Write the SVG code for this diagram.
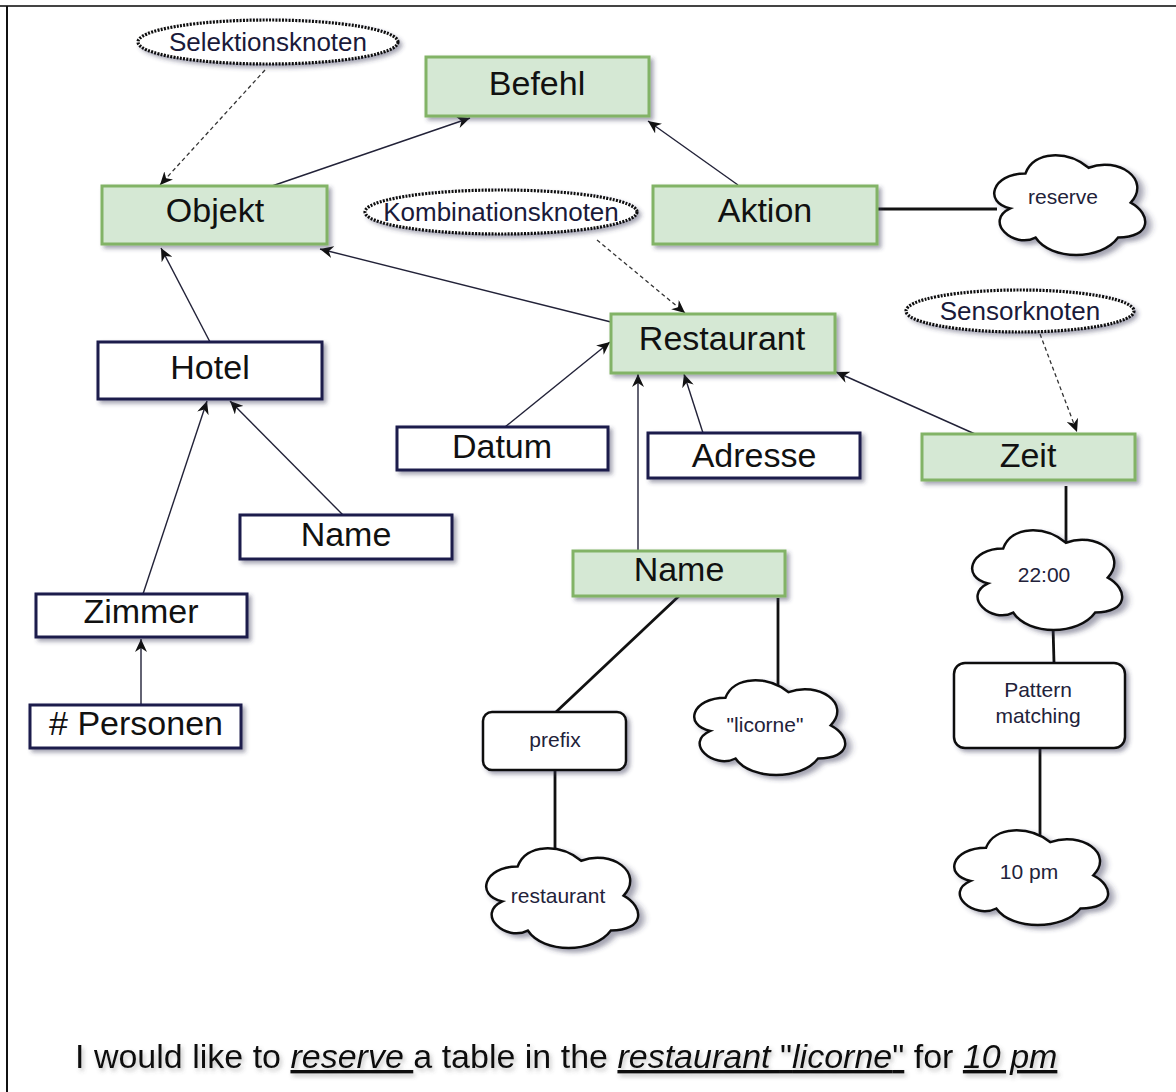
<svg xmlns="http://www.w3.org/2000/svg" xmlns:xlink="http://www.w3.org/1999/xlink" width="1176" height="1092" viewBox="0 0 1176 1092">
<style>
  .lbl { font-family: "Liberation Sans", Arial, sans-serif; font-size: 34px; fill: #111; text-anchor: middle; }
  .small { font-family: "Liberation Sans", Arial, sans-serif; font-size: 21px; fill: #22223a; text-anchor: middle; }
  .ell { font-family: "Liberation Sans", Arial, sans-serif; font-size: 26px; fill: #1a1a3a; text-anchor: middle; }
  .green { fill: #d5e8d4; stroke: #82b366; stroke-width: 3; }
  .white { fill: #ffffff; stroke: #1c1c4c; stroke-width: 3; }
  .rr { fill: #ffffff; stroke: #111; stroke-width: 2.5; }
  .cloud { fill: #ffffff; stroke: #111; stroke-width: 2.5; }
  .dots { fill: #ffffff; stroke: #111; stroke-width: 3.2; stroke-dasharray: 2 1.3; }
  .arr { fill: none; stroke: #222238; stroke-width: 1.4; marker-end: url(#ah); }
  .dash { fill: none; stroke: #333; stroke-width: 1.3; stroke-dasharray: 4 3; marker-end: url(#ah); }
  .thick { fill: none; stroke: #111; stroke-width: 2.8; }
</style>
<defs>
  <filter id="sh" x="-10%" y="-10%" width="130%" height="140%">
    <feDropShadow dx="3" dy="3" stdDeviation="2" flood-color="#333355" flood-opacity="0.45"/>
  </filter>
  <filter id="tsh" x="-5%" y="-20%" width="110%" height="160%">
    <feDropShadow dx="2" dy="3" stdDeviation="2" flood-color="#555" flood-opacity="0.35"/>
  </filter>
  <marker id="ah" markerUnits="userSpaceOnUse" markerWidth="14" markerHeight="12" refX="13" refY="6" orient="auto">
    <path d="M0,0 L13,6 L0,12 L4,6 Z" fill="#111"/>
  </marker>
  <path id="cloudp" class="cloud" vector-effect="non-scaling-stroke" d="M25,25 C5,25 0,50 16,55 C0,66 18,90 31,80 C40,100 70,100 80,80 C100,80 100,60 87.5,50 C100,30 80,10 62.5,20 C50,5 30,5 25,25 Z"/>
</defs>
<rect x="0" y="0" width="1176" height="1092" fill="#ffffff"/>
<g id="frame">
  <line x1="0" y1="6" x2="1176" y2="6" stroke="#444" stroke-width="2"/>
  <line x1="7" y1="6" x2="7" y2="1092" stroke="#111" stroke-width="2"/>
</g>

<g id="connectors">
  <line class="arr" x1="272" y1="186" x2="470" y2="118"/>
  <line class="arr" x1="738" y1="185" x2="648" y2="121"/>
  <line class="arr" x1="611" y1="322" x2="320" y2="249"/>
  <line class="arr" x1="210" y1="342" x2="161" y2="248"/>
  <line class="arr" x1="505" y1="427" x2="610" y2="342"/>
  <line class="arr" x1="638" y1="551" x2="638" y2="374"/>
  <line class="arr" x1="703" y1="433" x2="684" y2="374"/>
  <line class="arr" x1="975" y1="434" x2="836" y2="372"/>
  <line class="arr" x1="143" y1="594" x2="207" y2="401"/>
  <line class="arr" x1="343" y1="515" x2="230" y2="401"/>
  <line class="arr" x1="141" y1="705" x2="141" y2="639"/>
  <line class="dash" x1="265" y1="70" x2="160" y2="185"/>
  <line class="dash" x1="597" y1="240" x2="685" y2="313"/>
  <line class="dash" x1="1040" y1="334" x2="1077" y2="432"/>
  <line class="thick" x1="877" y1="209" x2="997" y2="209"/>
  <line class="thick" x1="1066" y1="486" x2="1066" y2="543"/>
  <line class="thick" x1="1053" y1="626" x2="1054" y2="663"/>
  <line class="thick" x1="1040" y1="748" x2="1040" y2="836"/>
  <line class="thick" x1="679" y1="596" x2="556" y2="712"/>
  <line class="thick" x1="778" y1="598" x2="778" y2="692"/>
  <line class="thick" x1="555" y1="770" x2="555" y2="857"/>
</g>

<g id="n-selektionsknoten">
  <ellipse class="dots" cx="268" cy="42" rx="130" ry="22" filter="url(#sh)"/>
  <text class="ell" x="268" y="51">Selektionsknoten</text>
</g>
<g id="n-kombinationsknoten">
  <ellipse class="dots" cx="501" cy="212" rx="136" ry="22" filter="url(#sh)"/>
  <text class="ell" x="501" y="221">Kombinationsknoten</text>
</g>
<g id="n-sensorknoten">
  <ellipse class="dots" cx="1020" cy="311" rx="114" ry="21" filter="url(#sh)"/>
  <text class="ell" x="1020" y="320">Sensorknoten</text>
</g>

<g id="n-befehl">
  <rect class="green" x="426" y="57" width="223" height="59" filter="url(#sh)"/>
  <text class="lbl" x="537" y="95">Befehl</text>
</g>
<g id="n-objekt">
  <rect class="green" x="102" y="186" width="225" height="58" filter="url(#sh)"/>
  <text class="lbl" x="215" y="222">Objekt</text>
</g>
<g id="n-aktion">
  <rect class="green" x="653" y="186" width="224" height="58" filter="url(#sh)"/>
  <text class="lbl" x="765" y="222">Aktion</text>
</g>
<g id="n-restaurant">
  <rect class="green" x="611" y="314" width="224" height="59" filter="url(#sh)"/>
  <text class="lbl" x="722" y="350">Restaurant</text>
</g>
<g id="n-zeit">
  <rect class="green" x="922" y="434" width="213" height="46" filter="url(#sh)"/>
  <text class="lbl" x="1028" y="467">Zeit</text>
</g>
<g id="n-name-green">
  <rect class="green" x="573" y="551" width="212" height="45" filter="url(#sh)"/>
  <text class="lbl" x="679" y="581">Name</text>
</g>

<g id="n-hotel">
  <rect class="white" x="98" y="342" width="224" height="57" filter="url(#sh)"/>
  <text class="lbl" x="210" y="379">Hotel</text>
</g>
<g id="n-datum">
  <rect class="white" x="397" y="427" width="211" height="43" filter="url(#sh)"/>
  <text class="lbl" x="502" y="458">Datum</text>
</g>
<g id="n-adresse">
  <rect class="white" x="648" y="433" width="212" height="45" filter="url(#sh)"/>
  <text class="lbl" x="754" y="467">Adresse</text>
</g>
<g id="n-name-white">
  <rect class="white" x="240" y="515" width="212" height="44" filter="url(#sh)"/>
  <text class="lbl" x="346" y="546">Name</text>
</g>
<g id="n-zimmer">
  <rect class="white" x="36" y="594" width="211" height="43" filter="url(#sh)"/>
  <text class="lbl" x="141" y="623">Zimmer</text>
</g>
<g id="n-personen">
  <rect class="white" x="30" y="705" width="211" height="43" filter="url(#sh)"/>
  <text class="lbl" x="136" y="735"># Personen</text>
</g>

<g id="n-prefix">
  <rect class="rr" x="483" y="712" width="143" height="58" rx="9" filter="url(#sh)"/>
  <text class="small" x="555" y="747">prefix</text>
</g>
<g id="n-pattern">
  <rect class="rr" x="954" y="663" width="171" height="85" rx="11" filter="url(#sh)"/>
  <text class="small" x="1038" y="697">Pattern</text>
  <text class="small" x="1038" y="723">matching</text>
</g>

<g id="n-reserve">
  <use xlink:href="#cloudp" href="#cloudp" transform="translate(983.3,144.5) scale(1.685,1.163)" filter="url(#sh)"/>
  <text class="small" x="1063" y="204">reserve</text>
</g>
<g id="n-2200">
  <use xlink:href="#cloudp" href="#cloudp" transform="translate(961.3,519.5) scale(1.674,1.163)" filter="url(#sh)"/>
  <text class="small" x="1044" y="582">22:00</text>
</g>
<g id="n-licorne">
  <use xlink:href="#cloudp" href="#cloudp" transform="translate(683.3,670.1) scale(1.685,1.105)" filter="url(#sh)"/>
  <text class="small" x="765" y="732">"licorne"</text>
</g>
<g id="n-restaurant-cloud">
  <use xlink:href="#cloudp" href="#cloudp" transform="translate(475.2,837.5) scale(1.696,1.163)" filter="url(#sh)"/>
  <text class="small" x="558" y="903">restaurant</text>
</g>
<g id="n-10pm">
  <use xlink:href="#cloudp" href="#cloudp" transform="translate(943.1,820.1) scale(1.717,1.105)" filter="url(#sh)"/>
  <text class="small" x="1029" y="879">10 pm</text>
</g>

<g id="sentence" filter="url(#tsh)">
  <text x="75" y="1068" font-family="'Liberation Sans', Arial, sans-serif" font-size="34" fill="#111" xml:space="preserve">I would like to <tspan font-style="italic" text-decoration="underline">reserve </tspan>a table in the <tspan text-decoration="underline"><tspan font-style="italic">restaurant </tspan>"<tspan font-style="italic">licorne</tspan>"</tspan> for <tspan font-style="italic" text-decoration="underline">10 pm</tspan></text>
</g>
</svg>
